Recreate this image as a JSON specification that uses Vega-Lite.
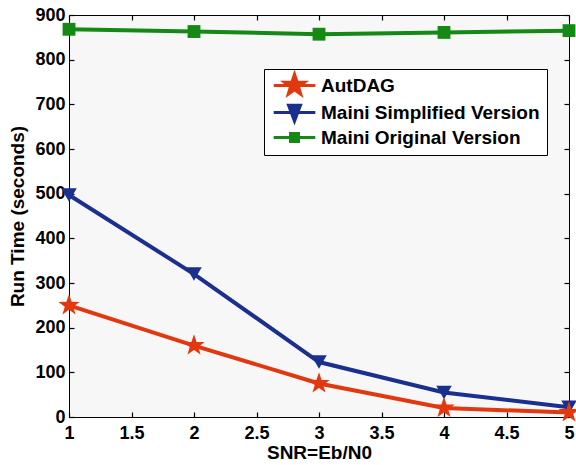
{
  "$schema": "https://vega.github.io/schema/vega-lite/v6.json",
  "width": 500,
  "height": 402,
  "autosize": "none",
  "padding": {"left": 69, "top": 15, "right": 7, "bottom": 48},
  "background": "white",
  "config": {
    "font": "Liberation Sans",
    "view": {"fill": "#f7f7f7", "stroke": "black", "strokeWidth": 1},
    "axis": {
      "grid": false,
      "domain": false,
      "tickColor": "black",
      "labelColor": "black",
      "titleColor": "black",
      "labelFont": "Liberation Sans",
      "titleFont": "Liberation Sans",
      "labelFontSize": 18,
      "labelFontWeight": "bold",
      "titleFontSize": 19,
      "titleFontWeight": "bold",
      "tickWidth": 1.2,
      "labelFlush": false,
      "labelOverlap": false
    }
  },
  "resolve": {
    "axis": {"x": "independent", "y": "independent"},
    "legend": {"color": "independent"}
  },
  "data": {
    "values": [
      {"snr": 1, "series": "AutDAG", "time": 250},
      {"snr": 2, "series": "AutDAG", "time": 160},
      {"snr": 3, "series": "AutDAG", "time": 75},
      {"snr": 4, "series": "AutDAG", "time": 20},
      {"snr": 5, "series": "AutDAG", "time": 10},
      {"snr": 1, "series": "Maini Simplified Version", "time": 497},
      {"snr": 2, "series": "Maini Simplified Version", "time": 320},
      {"snr": 3, "series": "Maini Simplified Version", "time": 123},
      {"snr": 4, "series": "Maini Simplified Version", "time": 55},
      {"snr": 5, "series": "Maini Simplified Version", "time": 22},
      {"snr": 1, "series": "Maini Original Version", "time": 868},
      {"snr": 2, "series": "Maini Original Version", "time": 863},
      {"snr": 3, "series": "Maini Original Version", "time": 857},
      {"snr": 4, "series": "Maini Original Version", "time": 861},
      {"snr": 5, "series": "Maini Original Version", "time": 865}
    ]
  },
  "layer": [
    {
      "mark": {"type": "line", "strokeWidth": 4, "clip": false},
      "encoding": {
        "x": {"field": "snr", "type": "quantitative", "scale": {"domain": [1, 5], "nice": false, "zero": false},
          "axis": {"orient": "bottom", "title": "SNR=Eb/N0", "ticks": false, "values": [1, 1.5, 2, 2.5, 3, 3.5, 4, 4.5, 5], "labelExpr": "datum.value", "labelPadding": 7, "titlePadding": 1}},
        "y": {"field": "time", "type": "quantitative", "scale": {"domain": [0, 900], "nice": false},
          "axis": {"orient": "left", "title": "Run Time (seconds)", "ticks": false, "values": [0, 100, 200, 300, 400, 500, 600, 700, 800, 900], "labelPadding": 4, "titlePadding": 7}},
        "color": {"field": "series", "type": "nominal",
          "scale": {"domain": ["AutDAG", "Maini Simplified Version", "Maini Original Version"], "range": ["#e2380f", "#1b2f8f", "#148a14"]},
          "legend": {
            "title": null,
            "orient": "none",
            "legendX": 195,
            "legendY": 54,
            "fillColor": "white",
            "strokeColor": "black",
            "padding": 7,
            "rowPadding": -2,
            "symbolSize": 256,
            "symbolOffset": 14,
            "symbolStrokeWidth": 3,
            "labelFont": "Liberation Sans",
            "labelFontSize": 19,
            "labelFontWeight": "bold",
            "labelColor": "black",
            "labelOffset": 17,
            "labelLimit": 400,
            "encode": {
              "symbols": {
                "update": {
                  "shape": {"signal": "datum.value === 'AutDAG' ? 'M-2.6,0H2.6M0,-1.4L0.32,-0.44L1.28,-0.42L0.51,0.17L0.79,1.09L0,0.54L-0.79,1.09L-0.51,0.17L-1.28,-0.42L-0.32,-0.44Z' : datum.value === 'Maini Simplified Version' ? 'M-2.6,0H2.6M-0.75,-0.9L0.75,-0.9L0,1.1Z' : 'M-2.6,0H2.6M-0.5,-0.5H0.5V0.5H-0.5Z'"},
                  "fill": {"scale": "color", "field": "value"},
                  "strokeWidth": {"value": 3}
                }
              }
            }
          }
        }
      }
    },
    {
      "transform": [{"filter": "datum.series === 'Maini Original Version'"}],
      "mark": {"type": "point", "shape": "square", "size": 165, "filled": true, "opacity": 1, "color": "#148a14", "clip": false},
      "encoding": {
        "x": {"field": "snr", "type": "quantitative",
          "axis": {"orient": "top", "labels": false, "title": null, "offset": -5, "tickSize": 5, "values": [1, 1.5, 2, 2.5, 3, 3.5, 4, 4.5, 5]}},
        "y": {"field": "time", "type": "quantitative",
          "axis": {"orient": "right", "labels": false, "title": null, "offset": -5, "tickSize": 5, "values": [0, 100, 200, 300, 400, 500, 600, 700, 800, 900]}}
      }
    },
    {
      "transform": [{"filter": "datum.series === 'Maini Simplified Version'"}],
      "mark": {"type": "point", "shape": "triangle-down", "size": 240, "filled": true, "opacity": 1, "color": "#1b2f8f", "clip": false},
      "encoding": {
        "x": {"field": "snr", "type": "quantitative",
          "axis": {"orient": "bottom", "labels": false, "title": null, "offset": -5, "tickSize": 5, "values": [1, 1.5, 2, 2.5, 3, 3.5, 4, 4.5, 5]}},
        "y": {"field": "time", "type": "quantitative",
          "axis": {"orient": "left", "labels": false, "title": null, "offset": -5, "tickSize": 5, "values": [0, 100, 200, 300, 400, 500, 600, 700, 800, 900]}}
      }
    },
    {
      "transform": [{"filter": "datum.series === 'AutDAG'"}],
      "mark": {"type": "point", "shape": "M0,-1L0.235,-0.324L0.951,-0.309L0.380,0.124L0.588,0.809L0,0.4L-0.588,0.809L-0.380,0.124L-0.951,-0.309L-0.235,-0.324Z", "size": 500, "filled": true, "opacity": 1, "color": "#e2380f", "clip": false},
      "encoding": {
        "x": {"field": "snr", "type": "quantitative", "axis": null},
        "y": {"field": "time", "type": "quantitative", "axis": null}
      }
    }
  ]
}
